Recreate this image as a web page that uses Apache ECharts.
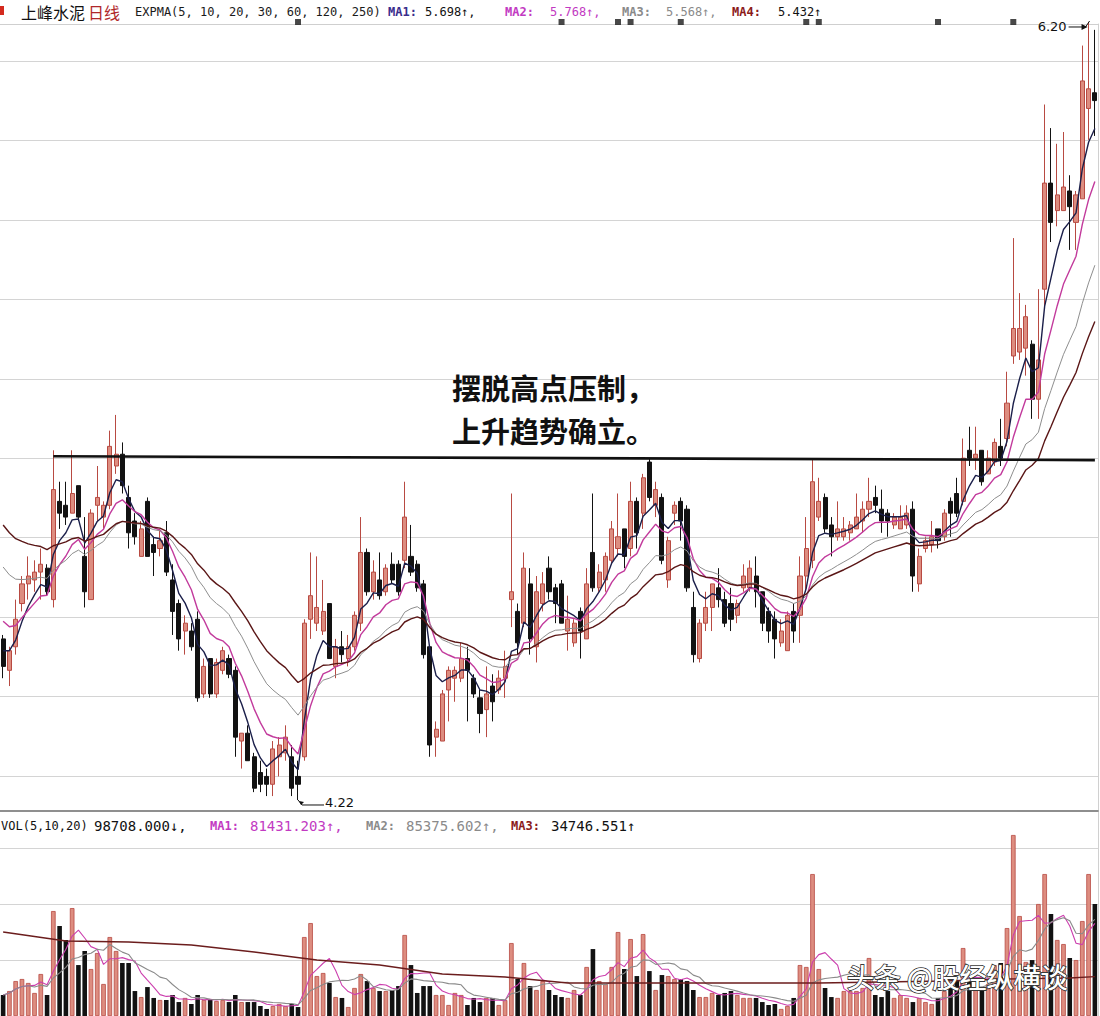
<!DOCTYPE html>
<html>
<head>
<meta charset="utf-8">
<title>上峰水泥日线</title>
<script src="https://cdn.jsdelivr.net/npm/echarts@6/dist/echarts.min.js"></script>
<style>html,body{margin:0;padding:0;background:#fff;overflow:hidden}#chart{width:1100px;height:1016px}</style>
</head>
<body>
<div id="chart"></div>
<script>
// ---- daily bars (price, yuan) ----
const openP = [
4.63,4.55,4.61,4.72,4.77,4.78,4.80,4.81,4.73,4.98,
4.97,4.95,5.02,4.84,4.73,4.97,4.94,4.97,5.07,5.10,
4.99,4.93,4.84,4.98,4.87,4.86,4.90,4.78,4.72,4.65,
4.65,4.68,4.49,4.58,4.49,4.55,4.58,4.55,4.37,4.39,
4.33,4.29,4.28,4.26,4.33,4.34,4.33,4.28,4.33,4.68,
4.67,4.65,4.72,4.56,4.61,4.58,4.61,4.67,4.85,4.75,
4.78,4.75,4.82,4.82,4.83,4.84,4.82,4.77,4.61,4.38,
4.37,4.50,4.53,4.53,4.58,4.53,4.48,4.45,4.51,4.50,
4.53,4.73,4.70,4.67,4.77,4.61,4.72,4.81,4.76,4.77,
4.65,4.62,4.70,4.63,4.85,4.76,4.78,4.83,4.86,4.91,
4.86,4.98,4.95,5.08,4.97,4.99,4.78,4.95,4.98,4.96,
4.71,4.58,4.67,4.71,4.76,4.73,4.72,4.69,4.76,4.76,
4.79,4.75,4.70,4.68,4.62,4.60,4.70,4.69,4.79,4.83,
4.94,4.99,4.92,4.89,4.89,4.90,4.91,4.93,4.96,4.99,
4.96,4.95,4.92,4.91,4.92,4.96,4.77,4.86,4.87,4.91,
4.89,4.98,5.00,4.98,5.11,5.09,5.11,5.05,5.08,5.12,
5.14,5.35,5.36,5.37,5.38,5.24,5.52,5.79,5.72,5.72,
5.77,5.69,5.75,5.98,6.02];
const closeP = [
4.56,4.60,4.68,4.77,4.79,4.80,4.82,4.75,5.01,4.95,
4.94,5.00,4.94,4.75,4.95,4.99,4.97,5.12,5.10,5.02,
4.90,4.89,4.91,4.84,4.85,4.88,4.80,4.70,4.63,4.67,
4.61,4.48,4.56,4.49,4.57,4.60,4.54,4.38,4.39,4.32,
4.25,4.26,4.26,4.35,4.36,4.38,4.25,4.26,4.67,4.74,
4.71,4.70,4.58,4.61,4.59,4.61,4.69,4.85,4.75,4.80,
4.74,4.81,4.78,4.75,4.94,4.80,4.76,4.59,4.36,4.40,
4.49,4.55,4.55,4.58,4.55,4.49,4.44,4.49,4.47,4.53,
4.56,4.75,4.62,4.81,4.63,4.75,4.77,4.75,4.72,4.67,
4.68,4.67,4.65,4.77,4.76,4.80,4.84,4.91,4.89,4.84,
4.98,4.90,5.04,4.99,5.01,4.83,4.88,4.97,4.93,4.76,
4.59,4.67,4.71,4.77,4.73,4.67,4.68,4.72,4.79,4.81,
4.75,4.67,4.65,4.63,4.65,4.69,4.65,4.79,4.86,5.03,
4.98,4.91,4.89,4.91,4.91,4.92,4.94,4.96,4.98,4.97,
4.93,4.93,4.94,4.94,4.95,4.79,4.84,4.88,4.89,4.88,
4.95,4.95,4.95,5.09,5.09,5.10,5.03,5.09,5.13,5.09,
5.23,5.42,5.42,5.45,5.24,5.34,5.79,5.69,5.76,5.78,
5.73,5.76,6.05,6.03,6.00];
const lowP = [
4.53,4.51,4.59,4.70,4.73,4.75,4.73,4.74,4.71,4.91,
4.92,4.95,4.93,4.71,4.73,4.93,4.91,4.96,5.05,5.00,
4.86,4.87,4.84,4.84,4.79,4.84,4.79,4.64,4.60,4.59,
4.60,4.47,4.48,4.48,4.48,4.54,4.53,4.33,4.30,4.32,
4.24,4.24,4.23,4.23,4.28,4.32,4.23,4.22,4.32,4.63,
4.65,4.64,4.58,4.53,4.57,4.56,4.60,4.65,4.74,4.73,
4.73,4.74,4.77,4.74,4.81,4.79,4.75,4.58,4.33,4.33,
4.37,4.42,4.47,4.52,4.42,4.48,4.39,4.38,4.42,4.49,
4.48,4.66,4.59,4.66,4.59,4.57,4.70,4.73,4.67,4.67,
4.60,4.61,4.58,4.63,4.75,4.75,4.75,4.82,4.84,4.81,
4.84,4.86,4.91,4.98,4.94,4.82,4.76,4.92,4.88,4.75,
4.57,4.57,4.65,4.65,4.71,4.66,4.65,4.67,4.75,4.75,
4.71,4.65,4.62,4.58,4.61,4.60,4.62,4.62,4.75,4.81,
4.93,4.90,4.84,4.88,4.88,4.88,4.91,4.90,4.94,4.95,
4.90,4.89,4.91,4.91,4.91,4.75,4.75,4.85,4.85,4.86,
4.88,4.89,4.94,4.97,5.07,5.06,5.02,5.05,5.07,5.07,
5.12,5.33,5.34,5.30,5.19,5.19,5.47,5.64,5.68,5.72,
5.62,5.62,5.75,5.90,5.91];
const highP = [
4.64,4.61,4.73,4.79,4.84,4.83,4.86,4.82,5.11,5.03,
5.03,5.11,5.02,4.94,4.96,5.07,4.98,5.16,5.20,5.13,
5.02,4.95,4.93,4.99,4.89,4.91,4.93,4.82,4.73,4.69,
4.67,4.70,4.58,4.58,4.58,4.61,4.59,4.56,4.39,4.41,
4.34,4.32,4.30,4.37,4.38,4.41,4.36,4.32,4.68,4.85,
4.84,4.78,4.72,4.63,4.65,4.64,4.70,4.94,4.86,4.83,
4.85,4.82,4.85,4.83,5.03,4.92,4.83,4.78,4.61,4.42,
4.50,4.56,4.56,4.62,4.61,4.54,4.50,4.56,4.54,4.55,
4.60,5.00,4.72,4.85,4.81,4.79,4.80,4.84,4.77,4.78,
4.74,4.68,4.71,4.81,5.00,4.82,4.85,4.93,5.00,4.91,
5.03,4.99,5.05,5.09,5.03,5.00,4.89,4.98,4.99,4.97,
4.75,4.68,4.75,4.77,4.81,4.75,4.76,4.73,4.82,4.83,
4.84,4.75,4.71,4.70,4.68,4.70,4.72,4.84,4.94,5.09,
5.04,5.00,4.94,4.98,4.94,4.93,5.00,4.98,5.04,5.02,
5.01,4.96,4.95,4.97,4.97,4.98,4.86,4.89,4.93,4.91,
4.96,4.99,5.04,5.14,5.17,5.17,5.11,5.11,5.14,5.19,
5.31,5.65,5.51,5.48,5.39,5.52,5.99,5.93,5.89,5.92,
5.81,5.77,6.14,6.20,6.18];
// ---- daily volume (hands) ----
const volume = [
18500,22000,30800,32600,29100,20300,37000,18500,92500,79300,
67000,95100,44900,57300,41400,55500,28200,69600,57300,46700,
46700,22000,16700,25500,15900,14100,14100,18500,12300,15900,
10600,18500,14100,14100,13200,14100,12300,18500,12300,12300,
12300,8800,6200,8800,10600,8800,10600,7900,69600,81900,
35200,37900,29100,16700,15900,7900,24700,37000,30800,24700,
22000,22000,22900,26400,71400,44900,20300,26400,26400,18500,
18500,9700,20300,18500,9700,15900,12300,15900,15900,9700,
14100,64300,32600,46700,26400,22900,30800,22900,18500,16700,
15900,22900,18500,43200,59000,30800,28200,43200,74000,41400,
67800,35200,72200,39600,22900,36100,35200,32600,32600,30800,
22900,16700,16700,20300,18500,20300,22000,18500,15900,15900,
15900,12300,9700,10600,6200,8800,15900,44900,43200,125100,
41400,24700,16700,15900,22000,22000,22000,24700,51100,18500,
16700,22000,15900,18500,15900,12300,15900,12300,10600,15900,
22000,26400,30800,59900,30800,22900,24700,28200,44900,46700,
77500,159500,88100,47600,49300,98700,125100,89900,67000,63400,
51100,49300,83700,125100,98708];
const days = openP.map((_, i) => 'T' + (i + 1));

// long volume average (MA3 of the VOL panel) at these bars
const volMa3Idx = [0, 10, 20, 30, 40, 50, 60, 70, 80, 90, 100, 110, 120, 130, 140, 150, 160, 170, 174];
const volMa3Val = [74000, 66100, 65200, 62600, 56400, 49300, 44900, 37000, 34400, 29100, 29100, 29100, 29100, 29100, 30000, 30800, 32600, 33500, 34746];

// ---- indicator settings (EXPMA on closes, MA on volume) ----
const maNames = ['MA1', 'MA2', 'MA3', 'MA4'];
const maPeriods = [5, 10, 20, 30];
const maSeeds = [4.62, 4.70, 4.84, 4.945];
const maColors = ['#1b1f4a', '#c23a9c', '#8e8e8e', '#5a1616'];
const volMaPeriods = [5, 10];
const volMaColors = ['#cc3fae', '#8a8a8a', '#6b1d1d'];

// resistance line drawn through the earlier high
const resistFromIdx = 8;
const resistLevels = [5.095, 5.085];
// information-mine markers on the top strip
const signalIdx = [47, 89, 98, 100, 108, 128, 130, 149, 161];
const signalLevel = 6.20;

// header texts
const headerVals = ['5.698↑,', '5.768↑,', '5.568↑,', '5.432↑'];
const volHeaderVals = ['98708.000↓,', '81431.203↑,', '85375.602↑,', '34746.551↑'];

function ema(src, n, seed) {
  const a = 2 / (n + 1); let v = seed;
  return src.map(x => { v = a * x + (1 - a) * v; return +v.toFixed(3); });
}
function sma(src, n) {
  return src.map((_, i) => {
    const s = src.slice(Math.max(0, i - n + 1), i + 1);
    return Math.round(s.reduce((p, c) => p + c, 0) / s.length);
  });
}

const UP = '#dd8d80', UPB = '#b84a42', DN = '#121212';
const kData = openP.map((o, i) => [o, closeP[i], lowP[i], highP[i]]);
const volData = volume.map((v, i) => {
  const up = closeP[i] >= openP[i];
  return { value: v, itemStyle: { color: up ? UP : DN, borderColor: up ? UPB : DN, borderWidth: up ? 0.8 : 0 } };
});

const priceMin = 4.192, priceMax = 6.1949;
const volMax = 180667;

const series = [];
series.push({
  type: 'candlestick', name: 'K', xAxisIndex: 0, yAxisIndex: 0, data: kData,
  barWidth: 4.6, clip: false, silent: true,
  itemStyle: { color: UP, color0: DN, borderColor: UPB, borderColor0: DN, borderWidth: 1 },
  markLine: {
    silent: true, symbol: ['none', 'none'], label: { show: false },
    lineStyle: { color: '#111', width: 2.6, type: 'solid' },
    data: [[{ coord: [days[resistFromIdx], resistLevels[0]] }, { coord: [days[days.length - 1], resistLevels[1]] }]]
  },
  z: 3
});
maPeriods.forEach((n, k) => {
  series.push({
    type: 'line', name: maNames[k], xAxisIndex: 0, yAxisIndex: 0,
    data: ema(closeP, n, maSeeds[k]), showSymbol: false, silent: true,
    lineStyle: { color: maColors[k], width: k === 2 ? 1 : 1.4 }, z: 4
  });
});
series.push({
  type: 'scatter', xAxisIndex: 0, yAxisIndex: 0, clip: false, silent: true,
  data: signalIdx.map(i => [days[i], signalLevel]),
  symbol: 'rect', symbolSize: [6, 6], itemStyle: { color: '#1a1a1a' }, z: 5
});
series.push({
  type: 'bar', name: 'VOL', xAxisIndex: 1, yAxisIndex: 1, data: volData,
  barWidth: 4.6, silent: true, z: 3
});
volMaPeriods.forEach((n, k) => {
  series.push({
    type: 'line', xAxisIndex: 1, yAxisIndex: 1, data: sma(volume, n),
    showSymbol: false, silent: true, lineStyle: { color: volMaColors[k], width: 1.1 }, z: 4
  });
});
series.push({
  type: 'line', xAxisIndex: 1, yAxisIndex: 1,
  data: volMa3Idx.map((i, k) => [days[i], volMa3Val[k]]),
  showSymbol: false, silent: true, lineStyle: { color: volMaColors[2], width: 1.4 }, z: 4
});

const GRID_LINE = '#d4d4d4';
const option = {
  animation: false,
  backgroundColor: '#ffffff',
  grid: [
    { left: 0, right: 2, top: 24, height: 787 },
    { left: 0, right: 2, top: 811, height: 205 },
    { left: 0, right: 2, top: 61, height: 715 },
    { left: 0, right: 2, top: 848, height: 112 }
  ],
  xAxis: [
    { type: 'category', gridIndex: 0, data: days, boundaryGap: true, position: 'top',
      axisLine: { onZero: false, lineStyle: { color: '#cfcfcf', width: 1 } },
      axisTick: { show: false }, axisLabel: { show: false }, splitLine: { show: false } },
    { type: 'category', gridIndex: 1, data: days, boundaryGap: true, position: 'top',
      axisLine: { onZero: false, lineStyle: { color: '#6a6a6a', width: 1.5 } },
      axisTick: { show: false }, axisLabel: { show: false }, splitLine: { show: false } },
    { type: 'value', gridIndex: 2, min: 0, max: 1, show: false },
    { type: 'value', gridIndex: 3, min: 0, max: 1, show: false }
  ],
  yAxis: [
    { type: 'value', gridIndex: 0, min: priceMin, max: priceMax, position: 'right', scale: true,
      axisLine: { show: true, lineStyle: { color: '#d0d0d0' } }, axisTick: { show: false },
      axisLabel: { show: false }, splitLine: { show: false } },
    { type: 'value', gridIndex: 1, min: 0, max: volMax, position: 'right',
      axisLine: { show: true, lineStyle: { color: '#d0d0d0' } }, axisTick: { show: false },
      axisLabel: { show: false }, splitLine: { show: false } },
    { type: 'value', gridIndex: 2, min: 0, max: 9, interval: 1,
      axisLine: { show: false }, axisTick: { show: false }, axisLabel: { show: false },
      splitLine: { show: true, lineStyle: { color: GRID_LINE, width: 1 } } },
    { type: 'value', gridIndex: 3, min: 0, max: 2, interval: 1,
      axisLine: { show: false }, axisTick: { show: false }, axisLabel: { show: false },
      splitLine: { show: true, lineStyle: { color: GRID_LINE, width: 1 } } }
  ],
  series: series
};

const chart = echarts.init(document.getElementById('chart'), null, { renderer: 'svg' });
chart.setOption(option);

// ---- texts and annotations ----
const MONO = '"DejaVu Sans Mono", monospace';
const CJK = '"Noto Sans CJK SC", sans-serif';
function txt(x, y, text, color, font, extra) {
  return { type: 'text', x: x, y: y, silent: true, z: 100,
    style: Object.assign({ text: text, fill: color, font: font, textVerticalAlign: 'middle', textAlign: 'left' }, extra || {}) };
}
const g = [];
g.push({ type: 'rect', shape: { x: -3, y: 6, width: 7, height: 9 }, style: { fill: '#d42a1e' }, silent: true, z: 100 });
g.push(txt(21, 12, '上峰水泥', '#111', '16px ' + CJK));
g.push(txt(88, 12, '日线', '#b0282a', '16px ' + CJK));
g.push(txt(135, 12, 'EXPMA(5, 10, 20, 30, 60, 120, 250)', '#1a1a1a', '12px ' + MONO));
const hdX = [[388, 425], [505, 550], [622, 666], [732, 778]];
const hdLabelColor = ['#3a2c8c', '#c23ac2', '#8a8a8a', '#8b1a1a'];
const hdValColor = ['#111', '#c23ac2', '#8a8a8a', '#111'];
maNames.forEach((nm, k) => {
  g.push(txt(hdX[k][0], 12, nm + ':', hdLabelColor[k], 'bold 12px ' + MONO));
  g.push(txt(hdX[k][1], 12, headerVals[k], hdValColor[k], '12px ' + MONO));
});
// VOL header
const vy = 826;
g.push(txt(1, vy, 'VOL(5,10,20)', '#111', '12px ' + MONO));
g.push(txt(94, vy, volHeaderVals[0], '#111', '14px ' + MONO));
const vhX = [[210, 250], [366, 406], [511, 551]];
const vhLabelColor = ['#c23ac2', '#8a8a8a', '#8b1a1a'];
const vhValColor = ['#c23ac2', '#8a8a8a', '#111'];
['MA1', 'MA2', 'MA3'].forEach((nm, k) => {
  g.push(txt(vhX[k][0], vy, nm + ':', vhLabelColor[k], 'bold 12px ' + MONO));
  g.push(txt(vhX[k][1], vy, volHeaderVals[k + 1], vhValColor[k], '14px ' + MONO));
});
// annotation
g.push(txt(452, 387, '摆脱高点压制，', '#111', 'bold 29px ' + CJK));
g.push(txt(452, 430, '上升趋势确立。', '#111', 'bold 29px ' + CJK));
// low / high labels
const lowIdx = lowP.indexOf(Math.min.apply(null, lowP));
const highIdx = highP.indexOf(Math.max.apply(null, highP));
const pl = chart.convertToPixel({ xAxisIndex: 0, yAxisIndex: 0 }, [days[lowIdx], lowP[lowIdx]]);
const ph = chart.convertToPixel({ xAxisIndex: 0, yAxisIndex: 0 }, [days[highIdx], highP[highIdx]]);
g.push({ type: 'polyline', silent: true, z: 100, shape: { points: [[pl[0], pl[1]], [pl[0] + 4, pl[1] + 5], [pl[0] + 26, pl[1] + 5]] }, style: { stroke: '#111', lineWidth: 1, fill: null } });
g.push({ type: 'polygon', silent: true, z: 100, shape: { points: [[pl[0] + 1, pl[1] + 1], [pl[0] + 6, pl[1] + 2], [pl[0] + 3, pl[1] + 5]] }, style: { fill: '#111' } });
g.push(txt(pl[0] + 27, pl[1] + 3, lowP[lowIdx].toFixed(2), '#111', '13px "DejaVu Sans", sans-serif'));
g.push({ type: 'polyline', silent: true, z: 100, shape: { points: [[ph[0] - 20, ph[1] + 5], [ph[0] - 3, ph[1] + 5], [ph[0] + 1, ph[1] - 1]] }, style: { stroke: '#111', lineWidth: 1, fill: null } });
g.push({ type: 'polygon', silent: true, z: 100, shape: { points: [[ph[0] - 7, ph[1] + 2], [ph[0] - 1, ph[1] + 5], [ph[0] - 7, ph[1] + 8]] }, style: { fill: '#111' } });
g.push(txt(ph[0] - 22, ph[1] + 5, highP[highIdx].toFixed(2), '#111', '13px "DejaVu Sans", sans-serif', { textAlign: 'right' }));
// watermark
g.push(txt(847, 976, '头条 @股经纵横谈', '#ffffff', '27px ' + CJK, { stroke: '#3a3a3a', lineWidth: 2 }));
g.push(txt(847, 976, '头条 @股经纵横谈', '#ffffff', '27px ' + CJK));
chart.setOption({ graphic: g });
</script>
</body>
</html>
